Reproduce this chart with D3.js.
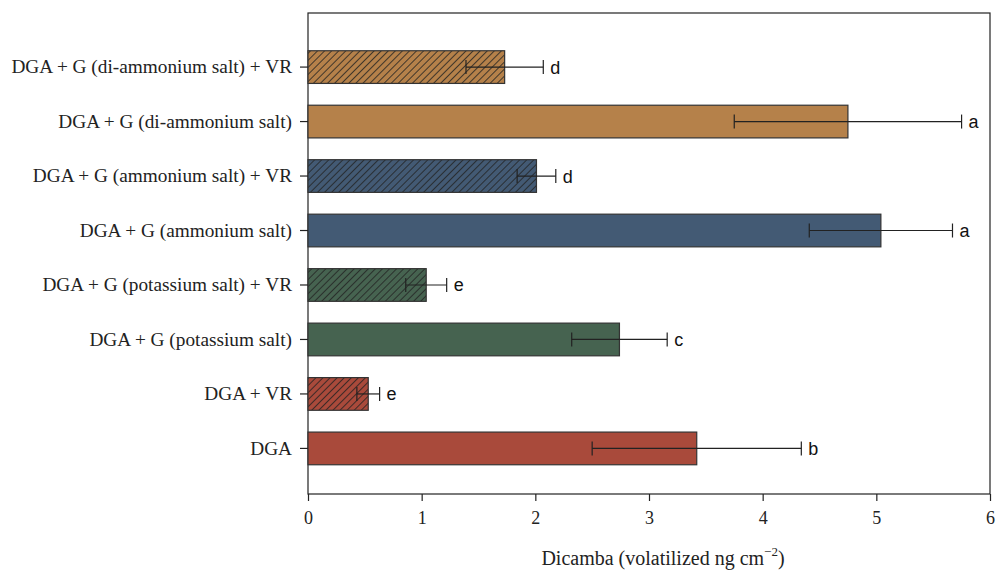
<!DOCTYPE html>
<html><head><meta charset="utf-8">
<script src="https://cdn.jsdelivr.net/npm/d3@7"></script>
<style>html,body{margin:0;padding:0;background:#fff;}</style>
</head><body>
<svg id="chart" width="997" height="573"></svg>
<script>
const categories = [
  "DGA + G (di-ammonium salt) + VR",
  "DGA + G (di-ammonium salt)",
  "DGA + G (ammonium salt) + VR",
  "DGA + G (ammonium salt)",
  "DGA + G (potassium salt) + VR",
  "DGA + G (potassium salt)",
  "DGA + VR",
  "DGA"
];
const means = [1.73, 4.75, 2.01, 5.04, 1.04, 2.74, 0.53, 3.42];
const errors = [0.34, 1.00, 0.17, 0.63, 0.18, 0.42, 0.10, 0.92];
const letters = ["d", "a", "d", "a", "e", "c", "e", "b"];
const hatched = [true, false, true, false, true, false, true, false];
const colors = ["#B5814A", "#B5814A", "#435A74", "#435A74", "#466350", "#466350", "#A94A3B", "#A94A3B"];
const xTicks = [0, 1, 2, 3, 4, 5, 6];

const svg = d3.select("#chart");
const L = 308, R = 990, T = 13, B = 494;
const x = d3.scaleLinear().domain([0, 6]).range([L, R]);
const y = d3.scaleBand().domain(categories).range([23.5, 492]).paddingInner(0.4).paddingOuter(0.5);

const defs = svg.append("defs");
colors.forEach((c, i) => {
  if (!hatched[i]) return;
  const p = defs.append("pattern").attr("id", "hatch" + i)
    .attr("patternUnits", "userSpaceOnUse").attr("width", 5).attr("height", 5)
    .attr("patternTransform", "rotate(45)");
  p.append("rect").attr("width", 5).attr("height", 5).attr("fill", c);
  p.append("line").attr("x1", 0).attr("y1", 0).attr("x2", 0).attr("y2", 5)
    .attr("stroke", "#222").attr("stroke-width", 1.6);
});

// frame
svg.append("rect").attr("x", L).attr("y", T).attr("width", R - L).attr("height", B - T)
  .attr("fill", "none").attr("stroke", "#222").attr("stroke-width", 1.2);

// bars
svg.selectAll("rect.bar").data(categories).enter().append("rect").attr("class", "bar")
  .attr("x", x(0)).attr("y", d => y(d))
  .attr("width", (d, i) => x(means[i]) - x(0)).attr("height", y.bandwidth())
  .attr("fill", (d, i) => hatched[i] ? `url(#hatch${i})` : colors[i])
  .attr("stroke", "#333").attr("stroke-width", 1.2);

// error bars
const eg = svg.append("g").attr("stroke", "#222").attr("stroke-width", 1.2);
categories.forEach((c, i) => {
  const cy = y(c) + y.bandwidth() / 2;
  const x1 = x(means[i] - errors[i]), x2 = x(means[i] + errors[i]);
  eg.append("line").attr("x1", x1).attr("x2", x2).attr("y1", cy).attr("y2", cy);
  eg.append("line").attr("x1", x1).attr("x2", x1).attr("y1", cy - 7).attr("y2", cy + 7);
  eg.append("line").attr("x1", x2).attr("x2", x2).attr("y1", cy - 7).attr("y2", cy + 7);
  svg.append("text").attr("x", x2 + 7).attr("y", cy).attr("dy", "0.36em")
    .attr("font-family", "Liberation Sans, Arial, sans-serif").attr("font-size", 18)
    .attr("fill", "#111").text(letters[i]);
});

// x axis
const xa = svg.append("g").attr("transform", `translate(0,${B})`)
  .call(d3.axisBottom(x).tickValues(xTicks).tickSize(7).tickPadding(10).tickFormat(d3.format("d")));
xa.select(".domain").remove();
xa.selectAll("line").attr("stroke", "#222").attr("stroke-width", 1.2);
xa.selectAll("text").attr("font-family", "Liberation Serif, Times New Roman, serif")
  .attr("font-size", 18).attr("fill", "#222");

// y axis
const ya = svg.append("g").attr("transform", `translate(${L},0)`)
  .call(d3.axisLeft(y).tickSize(8).tickPadding(8));
ya.select(".domain").remove();
ya.selectAll("line").attr("stroke", "#222").attr("stroke-width", 1.2);
ya.selectAll("text").attr("font-family", "Liberation Serif, Times New Roman, serif")
  .attr("font-size", 19.3).attr("fill", "#222");

// axis title
const t = svg.append("text").attr("x", 663).attr("y", 565).attr("text-anchor", "middle")
  .attr("font-family", "Liberation Serif, Times New Roman, serif").attr("font-size", 20).attr("fill", "#222");
t.append("tspan").text("Dicamba (volatilized ng cm");
t.append("tspan").attr("dy", -9).attr("font-size", 13).text("\u22122");
t.append("tspan").attr("dy", 9).text(")");
</script>
</body></html>
